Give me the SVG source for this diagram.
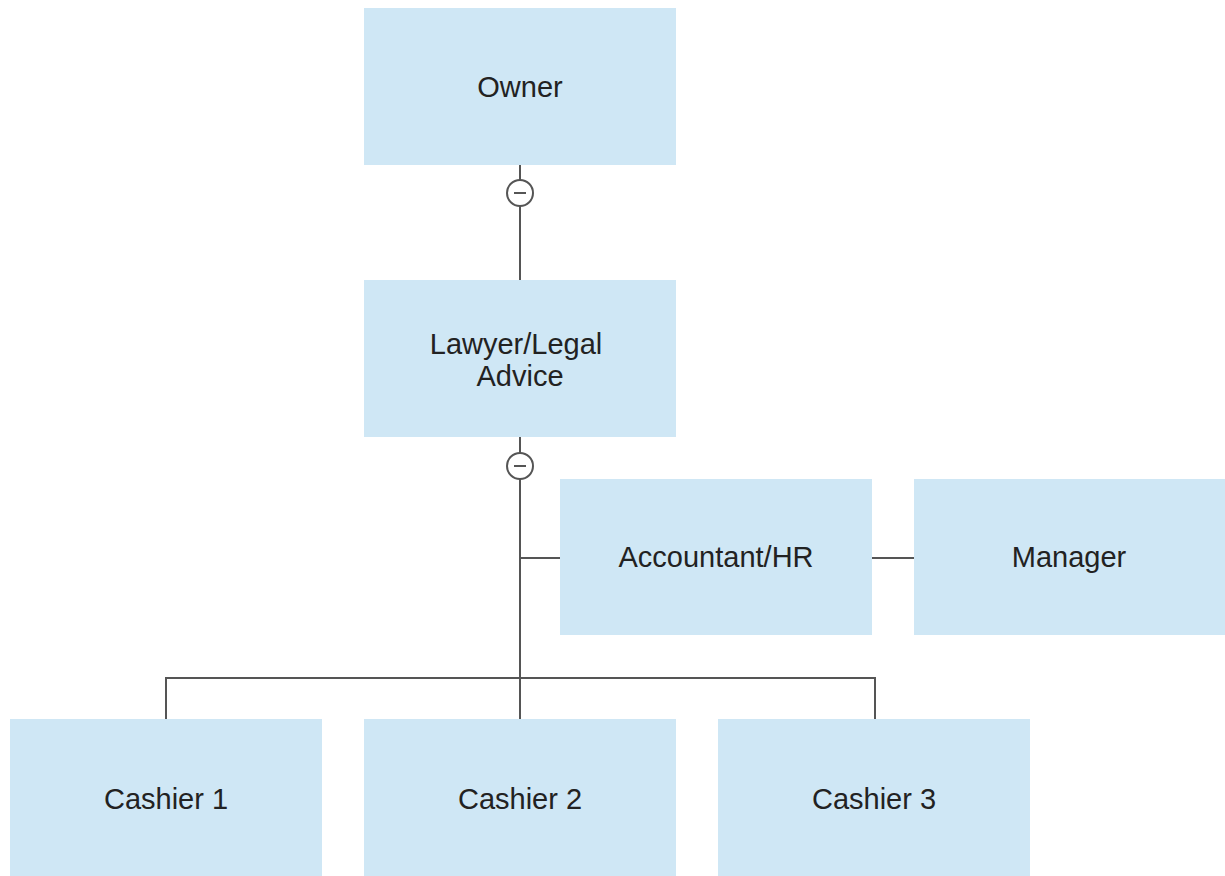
<svg xmlns="http://www.w3.org/2000/svg" width="1225" height="876" viewBox="0 0 1225 876">
  <style>
    .box { fill: #cfe7f5; }
    .label { font-family: "Liberation Sans", Arial, sans-serif; font-size: 29px; fill: #222; text-anchor: middle; dominant-baseline: central; }
    .wire { stroke: #555; stroke-width: 2; fill: none; }
    .toggle { fill: #fff; stroke: #555; stroke-width: 2; }
  </style>
  <rect width="1225" height="876" fill="#fff"/>

  <g id="connectors">
    <line class="wire" x1="520" y1="165" x2="520" y2="280"/>
    <line class="wire" x1="520" y1="437" x2="520" y2="719"/>
    <line class="wire" x1="520" y1="558" x2="560" y2="558"/>
    <line class="wire" x1="872" y1="558" x2="914" y2="558"/>
    <polyline class="wire" points="166,719 166,678 875,678 875,719"/>
    <g id="collapse-owner">
      <circle class="toggle" cx="520" cy="193" r="13"/>
      <line class="wire" x1="514" y1="193" x2="526" y2="193"/>
    </g>
    <g id="collapse-lawyer">
      <circle class="toggle" cx="520" cy="466" r="13"/>
      <line class="wire" x1="514" y1="466" x2="526" y2="466"/>
    </g>
  </g>

  <g id="owner">
    <rect class="box" x="364" y="8" width="312" height="157"/>
    <text class="label" x="520" y="87">Owner</text>
  </g>
  <g id="lawyer">
    <rect class="box" x="364" y="280" width="312" height="157"/>
    <text class="label" x="516" y="344">Lawyer/Legal</text>
    <text class="label" x="520" y="376">Advice</text>
  </g>
  <g id="accountant">
    <rect class="box" x="560" y="479" width="312" height="156"/>
    <text class="label" x="716" y="557">Accountant/HR</text>
  </g>
  <g id="manager">
    <rect class="box" x="914" y="479" width="311" height="156"/>
    <text class="label" x="1069" y="557">Manager</text>
  </g>
  <g id="cashier1">
    <rect class="box" x="10" y="719" width="312" height="157"/>
    <text class="label" x="166" y="799">Cashier 1</text>
  </g>
  <g id="cashier2">
    <rect class="box" x="364" y="719" width="312" height="157"/>
    <text class="label" x="520" y="799">Cashier 2</text>
  </g>
  <g id="cashier3">
    <rect class="box" x="718" y="719" width="312" height="157"/>
    <text class="label" x="874" y="799">Cashier 3</text>
  </g>
</svg>
